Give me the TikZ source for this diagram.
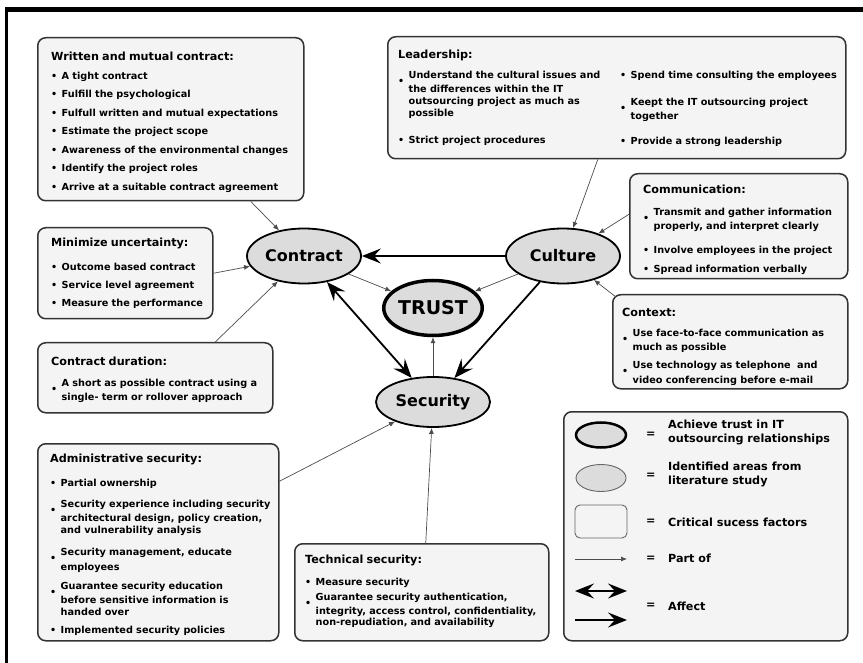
\documentclass[tikz,border=0pt]{standalone}
\usepackage{fontspec}
\setmainfont{DejaVu Sans}
\usetikzlibrary{shapes.geometric,arrows.meta}

\definecolor{boxfill}{HTML}{F4F4F4}
\definecolor{areafill}{HTML}{DCDCDC}
\definecolor{edge}{HTML}{333333}

\newlength\bulw
\setlength\bulw{10.5pt}
\newcommand\bul{{\fontsize{9.5}{9.5}\selectfont\textbullet}}
\newcommand\hd[1]{{\fontsize{11.2}{13}\selectfont #1\par}}
\newcommand\itm[2][6.5pt]{\par\ifdim#1>0pt\vspace{#1}\fi
  \hangindent=\bulw\hangafter=1\noindent\makebox[\bulw][l]{\bul}#2\par}
\newcommand\itmm[2][6.5pt]{\par\ifdim#1>0pt\vspace{#1}\fi
  \hangindent=\bulw\hangafter=1\noindent\makebox[\bulw][l]{\raisebox{-6pt}{\bul}}#2\par}
\newcommand\itmfirst[1]{\makebox[\bulw][l]{\bul}#1\par}

\begin{document}
\begin{tikzpicture}[
  x = 1pt, y = -1pt,
  cbox/.style = {draw=edge, line width=1.5pt, fill=boxfill, rounded corners=8pt,
                 inner sep=0, anchor=north west},
  area/.style = {ellipse, draw=black, line width=1.8pt, fill=areafill, inner sep=0,
                 minimum width=114pt, minimum height=55pt,
                 font=\fontsize{16}{18}\selectfont\bfseries},
  goal/.style = {area, line width=3.5pt, minimum width=91pt,
                 font=\fontsize{19}{21}\selectfont\bfseries},
  txt/.style = {anchor=base west, inner sep=0, align=left,
                font=\fontsize{9.7}{12}\selectfont\bfseries},
  legtxt/.style = {anchor=west, inner sep=0, align=left,
                   font=\fontsize{11.2}{14}\selectfont\bfseries},
  partof/.style = {-{Latex[length=6pt,width=5pt]}, line width=0.7pt, draw=black!70},
  affect/.style = {-{Stealth[length=19pt,width=15pt,inset=7pt]}, line width=1.8pt},
  affect2/.style = {{Stealth[length=19pt,width=15pt,inset=7pt]}-{Stealth[length=19pt,width=15pt,inset=7pt]},
                    line width=1.8pt},
  ]
  \useasboundingbox (0,0) rectangle (863,663);
  \fill (5,7) rectangle (863,12.5);
  \fill (5,7) rectangle (7.5,663);

  \node[cbox, minimum width=266pt, minimum height=163pt] (written) at (37,37) {};
  \node[cbox, minimum width=458pt, minimum height=122pt] (leadership) at (387,36) {};
  \node[cbox, minimum width=175pt, minimum height=91pt] (minimize) at (37,227) {};
  \node[cbox, minimum width=235pt, minimum height=70pt] (duration) at (37,342) {};
  \node[cbox, minimum width=218pt, minimum height=105pt] (communication) at (629,173) {};
  \node[cbox, minimum width=235pt, minimum height=94pt] (context) at (612,294) {};
  \node[cbox, minimum width=241pt, minimum height=197pt] (admin) at (37,443) {};
  \node[cbox, minimum width=254pt, minimum height=97pt] (technical) at (294,543) {};
  \node[cbox, minimum width=284pt, minimum height=229pt] (legend) at (563,411) {};

  \node[txt, text width=245pt] (writtenT) at (51,61) {\hd{Written and mutual contract:}
    \itm{A tight contract}
    \itm{Fulfill the psychological}
    \itm{Fulfull written and mutual expectations}
    \itm{Estimate the project scope}
    \itm{Awareness of the environmental changes}
    \itm{Identify the project roles}
    \itm{Arrive at a suitable contract agreement}};
  \node[txt, text width=215pt] (leadershipT) at (398,59) {\hd{Leadership:}
    \itmm[7.5pt]{Understand the cultural issues and\newline the differences within the IT\newline outsourcing project as much as\newline possible}
    \itm[15pt]{Strict project procedures}};
  \node[txt, text width=220pt] (leadershipR) at (620,78.5) {\itmfirst{Spend time consulting the employees}
    \itmm[15pt]{Keept the IT outsourcing project\newline together}
    \itm[13pt]{Provide a strong leadership}};
  \node[txt, text width=160pt] (minimizeT) at (51,247) {\hd{Minimize uncertainty:}
    \itm[11.5pt]{Outcome based contract}
    \itm[6pt]{Service level agreement}
    \itm[6pt]{Measure the performance}};
  \node[txt, text width=220pt] (durationT) at (51,366) {\hd{Contract duration:}
    \itmm[8.5pt]{A short as possible contract using a\newline single- term or rollover approach}};
  \node[txt, text width=200pt] (communicationT) at (643,194) {\hd{Communication:}
    \itmm[9.5pt]{Transmit and gather information\newline properly, and interpret clearly}
    \itm[12pt]{Involve employees in the project}
    \itm[7pt]{Spread information verbally}};
  \node[txt, text width=220pt] (contextT) at (622,317) {\hd{Context:}
    \itmm[7.5pt]{Use face-to-face communication as\newline much as possible}
    \itmm[6pt]{Use technology as telephone\ \ and\newline video conferencing before e-mail}};
  \node[txt, text width=230pt] (adminT) at (50,462) {\hd{Administrative security:}
    \itm[12.5pt]{Partial ownership}
    \itmm[9pt]{Security experience including security\newline architectural design, policy creation,\newline and vulnerability analysis}
    \itmm[10pt]{Security management, educate\newline employees}
    \itmm[7pt]{Guarantee security education\newline before sensitive information is\newline handed over}
    \itm[6pt]{Implemented security policies}};
  \node[txt, text width=240pt, font=\fontsize{9.7}{10.5}\selectfont\bfseries] (technicalT) at (305,563) {\hd{Technical security:}
    \itm[12pt]{Measure security}
    \itmm[4.5pt]{Guarantee security authentication,\newline integrity, access control, confidentiality,\newline non-repudiation, and availability}};

  \node[area] (contract) at (304,256) {Contract};
  \node[area] (culture) at (563,256) {Culture};
  \node[goal] (trust) at (433,308) {TRUST};
  \node[area, minimum height=50pt] (security) at (433,402) {Security};

  \draw[affect] (culture) -- (contract);
  \draw[affect2] (contract) -- (security);
  \draw[affect] (culture) -- (security);
  \draw[partof] (contract) -- (trust);
  \draw[partof] (culture) -- (trust);
  \draw[partof] (security) -- (trust);
  \draw[partof] (written) -- (contract);
  \draw[partof] (minimize.east) -- (contract);
  \draw[partof] ([xshift=60pt]duration.north) -- (contract);
  \draw[partof] ([xshift=-19pt]leadership.south) -- (culture);
  \draw[partof] ([yshift=12pt]communication.west) -- (culture);
  \draw[partof] ([xshift=4pt,yshift=-3pt]context.north west) -- (culture);
  \draw[partof] ([yshift=61pt]admin.east) -- (security);
  \draw[partof] ([xshift=4pt]technical.north) -- (security);

  \node[goal, minimum width=50pt, minimum height=25pt, line width=2.5pt] (legGoal) at (601,435) {};
  \node[area, minimum width=50pt, minimum height=27pt, line width=0.9pt, draw=black!60] (legArea) at (601,478) {};
  \node[cbox, line width=0.9pt, draw=black!60, rounded corners=5pt, anchor=center,
        minimum width=52pt, minimum height=33pt] (legBox) at (601,521.5) {};
  \coordinate (legP1) at (575,559);
  \coordinate (legP2) at (627,559);
  \coordinate (legA1) at (575,591);
  \coordinate (legA2) at (627,591);
  \coordinate (legB1) at (575,620);
  \coordinate (legB2) at (627,620);
  \draw[partof] (legP1) -- (legP2);
  \draw[affect2] (legA1) -- (legA2);
  \draw[affect] (legB1) -- (legB2);

  \node[legtxt] (eqGoal) at (646,435) {=};
  \node[legtxt] (eqArea) at (646,476) {=};
  \node[legtxt] (eqBox) at (646,522) {=};
  \node[legtxt] (eqPart) at (646,559) {=};
  \node[legtxt] (eqAff) at (646,606) {=};
  \node[legtxt] (legGoalT) at (668,432) {Achieve trust in IT\\outsourcing relationships};
  \node[legtxt] (legAreaT) at (668,474) {Identified areas from\\literature study};
  \node[legtxt] (legBoxT) at (668,522) {Critical sucess factors};
  \node[legtxt] (legPartT) at (668,558) {Part of};
  \node[legtxt] (legAffT) at (668,606) {Affect};
\end{tikzpicture}
\end{document}
